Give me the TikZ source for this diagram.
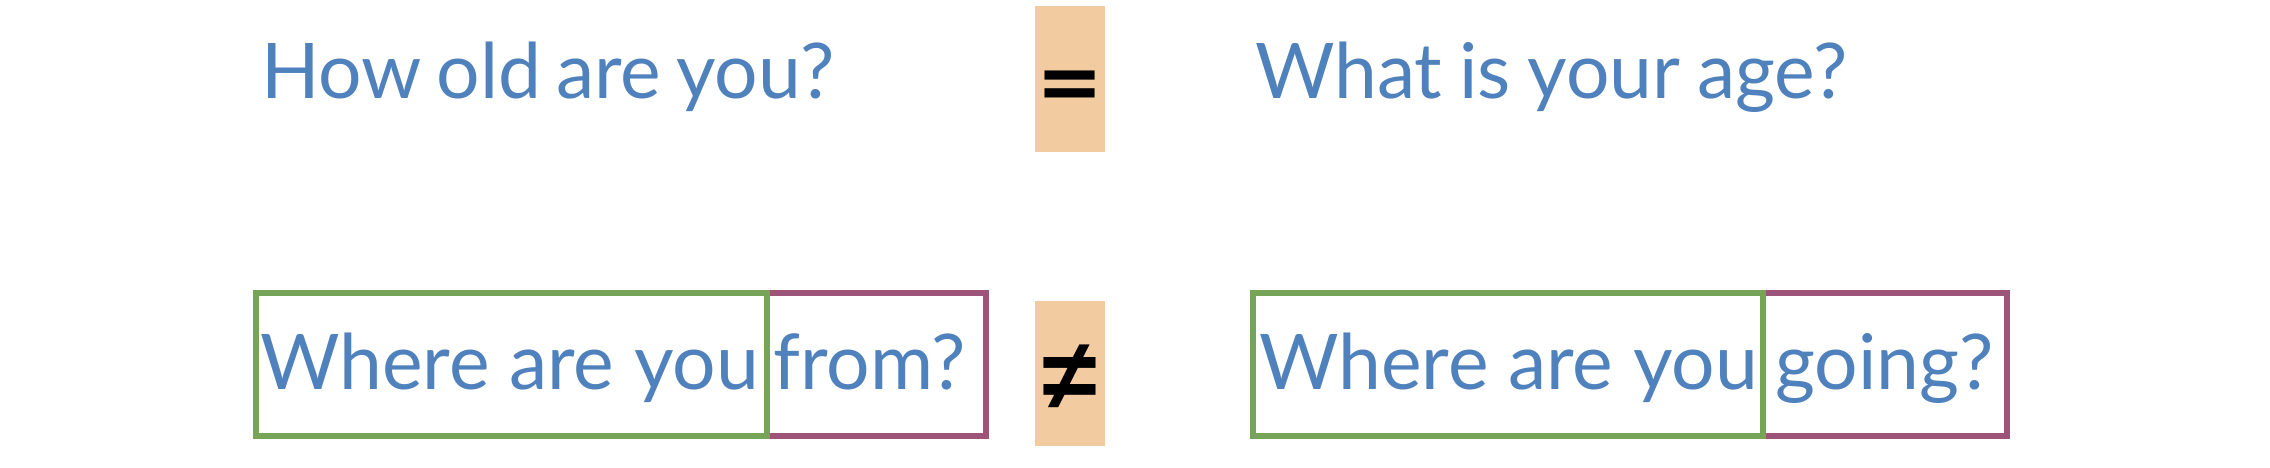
\documentclass[tikz,border=0pt]{standalone}
\usepackage{fontspec}
\setmainfont{Lato}
\newfontfamily\symfont{DejaVu Sans}
\newfontfamily\neqfont{Liberation Sans}
\definecolor{txtblue}{HTML}{4F81BD}
\definecolor{boxgreen}{HTML}{76A55A}
\definecolor{boxpurple}{HTML}{9C5579}
\definecolor{signorange}{HTML}{F3CBA0}
\newcommand{\wsp}[1]{\spaceskip=#1\fontdimen2\font\relax}
\tikzset{
  phrase/.style={inner sep=0pt, anchor=base west, text=txtblue, font=\fontsize{76.8}{90}\selectfont},
  signbox/.style={fill=signorange, draw=none},
  sign/.style={inner sep=0pt, text=black, font=\symfont\bfseries\fontsize{80}{90}\selectfont},
  neqsign/.style={inner sep=0pt, text=black, font=\neqfont\bfseries\fontsize{100}{110}\selectfont},
  greenframe/.style={draw=boxgreen, line width=6.5pt},
  purpleframe/.style={draw=boxpurple, line width=6.5pt},
}
\begin{document}
\begin{tikzpicture}[x=1pt,y=-1pt]
\useasboundingbox (0,0) rectangle (2270,468);
% top row
\node[phrase] (q1) at (261,99) {\wsp{0.75}How old are you?};
\node[phrase] (q2) at (1255,99) {\wsp{0.85}What is your age?};
\fill[signorange] (1035,6) rectangle (1105,152);
\node[sign] (eq) at (1070,90) {=};
% bottom row
\draw[purpleframe] (767,293) rectangle (986,436);
\draw[greenframe] (256,293) rectangle (767,436);
\draw[purpleframe] (1763,293) rectangle (2007,436);
\draw[greenframe] (1253,293) rectangle (1763,436);
\node[phrase] (w1) at (260,389) {Where are you};
\node[phrase] (f1) at (773,389) {from?};
\node[phrase] (w2) at (1259,389) {Where are you};
\node[phrase] (g2) at (1775,389) {going?};
\fill[signorange] (1035,301) rectangle (1105,446);
\node[neqsign] (ne) at (1070,377) {≠};
\end{tikzpicture}
\end{document}
